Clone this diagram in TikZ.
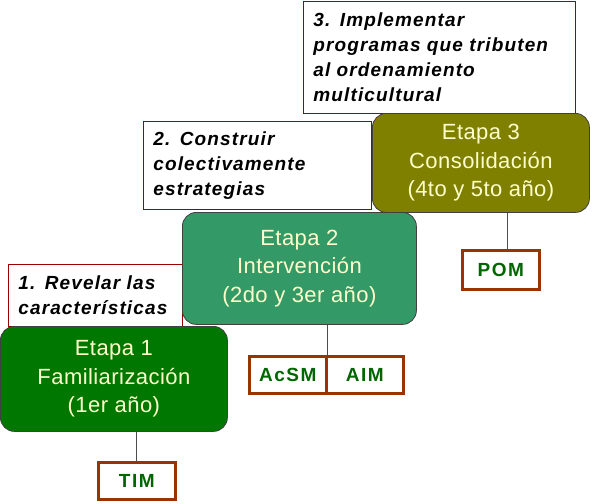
\documentclass[tikz,border=0pt]{standalone}
\usepackage{fontspec}
\setmainfont{Liberation Sans}
\newfontfamily\stagefont[LetterSpace=2]{Liberation Sans}
\newfontfamily\notefont[LetterSpace=6]{Liberation Sans}
\newfontfamily\codefont[LetterSpace=8]{Liberation Sans}
\usetikzlibrary{positioning,calc}
\definecolor{etgreen}{HTML}{007800}
\definecolor{etteal}{HTML}{339966}
\definecolor{etolive}{HTML}{808000}
\definecolor{etcream}{HTML}{FFFFCC}
\definecolor{etred}{HTML}{990000}
\definecolor{etbrown}{HTML}{993300}
\definecolor{etcode}{HTML}{006600}

\begin{document}
\begin{tikzpicture}[x=1pt,y=-1pt,
    stagebox/.style={draw=black!75, line width=0.8pt, rounded corners=14pt, text=etcream,
      align=center, inner sep=0pt, anchor=north west,
      font=\stagefont\fontsize{22}{28.5}\selectfont},
    notebox/.style={draw=etred, line width=0.7pt, fill=white, align=left, inner xsep=10pt,
      inner ysep=0pt, anchor=north west, font=\notefont\bfseries\itshape\fontsize{19}{25}\selectfont},
    codebox/.style={draw=etbrown, line width=2.6pt, fill=white, text=etcode, inner sep=0pt,
      minimum width=77, minimum height=37, anchor=north west,
      font=\codefont\bfseries\fontsize{19}{19}\selectfont},
    link/.style={draw=black!70, line width=1pt}]
    \useasboundingbox (0,0) rectangle (593,503);
    % notes above the stages
    \node[notebox, text width=252, minimum height=112] (note3) at (303,1) {3. Implementar\\programas que tributen\\al ordenamiento\\multicultural};
    \node[notebox, text width=208, minimum height=88] (note2) at (143,121) {2. Construir\\colectivamente\\estrategias};
    \node[notebox, text width=154, minimum height=62] (note1) at (8,264) {1. Revelar las\\características};
    % stages
    \node[stagebox, fill=etolive, minimum width=217, minimum height=99] (stage3) at (372,113) {Etapa 3\\Consolidación\\(4to y 5to año)};
    \node[stagebox, fill=etteal, minimum width=234, minimum height=112] (stage2) at (182,212) {Etapa 2\\Intervención\\(2do y 3er año)};
    \node[stagebox, fill=etgreen, minimum width=227, minimum height=105] (stage1) at (0,326) {Etapa 1\\Familiarización\\(1er año)};
    % programs
    \node[codebox] (tim) at (97,461) {TIM};
    \node[codebox] (acsm) at (248,355) {AcSM};
    \node[codebox] (aim) at (325,355) {AIM};
    \node[codebox, minimum height=39] (pom) at (461,249) {POM};
    \draw[link] (tim.north |- stage1.south) -- (tim.north);
    \draw[link] (acsm.north east |- stage2.south) -- (acsm.north east);
    \draw[link] ($(pom.north |- stage3.south)+(7,0)$) -- ($(pom.north)+(7,0)$);
  \end{tikzpicture}
\end{document}
